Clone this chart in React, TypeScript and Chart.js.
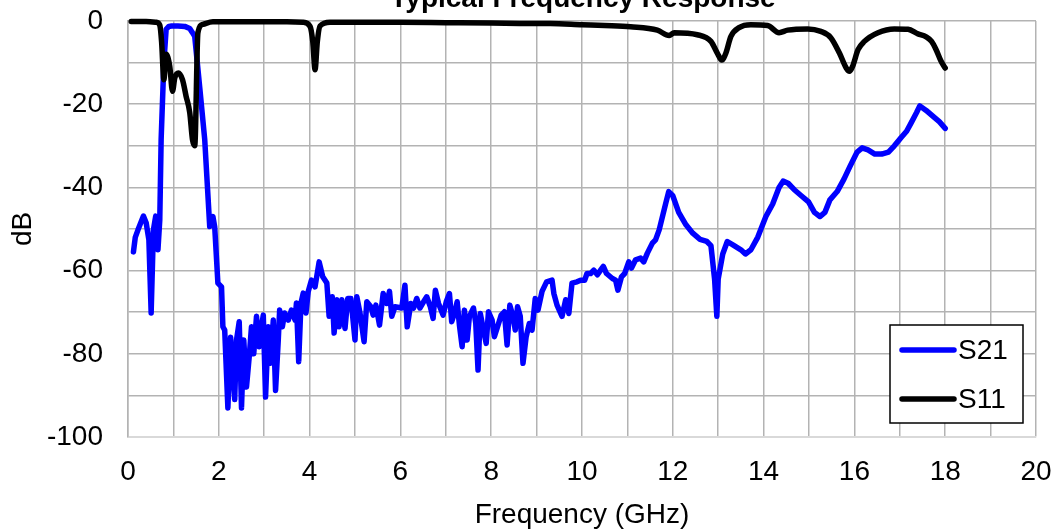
import React, { useEffect, useRef } from 'react';
import { Chart, registerables } from 'chart.js';

Chart.register(...registerables);

const FONT = "'Liberation Sans', Arial, sans-serif";
const TITLE = 'Typical Frequency Response';
const X_TITLE = 'Frequency (GHz)';
const Y_TITLE = 'dB';

const xTickValues = [0, 2, 4, 6, 8, 10, 12, 14, 16, 18, 20];
const yTickValues = [0, -20, -40, -60, -80, -100];

const s21Freq = [
  0.12, 0.16, 0.22, 0.34, 0.40, 0.46, 0.51, 0.56, 0.61, 0.66,
  0.70, 0.73, 0.79, 0.84, 0.90, 0.96, 1.10, 1.25, 1.36, 1.42,
  1.47, 1.58, 1.69, 1.80, 1.87, 1.91, 1.98, 2.06, 2.09, 2.13,
  2.20, 2.26, 2.31, 2.35, 2.39, 2.45, 2.50, 2.55, 2.61, 2.67,
  2.72, 2.77, 2.83, 2.89, 2.94, 2.98, 3.03, 3.09, 3.14, 3.20,
  3.25, 3.31, 3.34, 3.40, 3.45, 3.53, 3.60, 3.68, 3.71, 3.76,
  3.81, 3.86, 3.92, 3.97, 4.04, 4.12, 4.21, 4.29, 4.38, 4.43,
  4.50, 4.54, 4.60, 4.65, 4.71, 4.78, 4.84, 4.91, 5.00, 5.04,
  5.11, 5.20, 5.26, 5.35, 5.40, 5.46, 5.54, 5.62, 5.70, 5.76,
  5.81, 5.88, 6.03, 6.10, 6.15, 6.23, 6.29, 6.36, 6.43, 6.51,
  6.58, 6.66, 6.72, 6.77, 6.84, 6.94, 7.01, 7.08, 7.13, 7.19,
  7.25, 7.30, 7.36, 7.41, 7.47, 7.52, 7.61, 7.66, 7.71, 7.76,
  7.83, 7.89, 7.94, 8.02, 8.07, 8.14, 8.22, 8.29, 8.35, 8.41,
  8.48, 8.53, 8.58, 8.64, 8.70, 8.77, 8.84, 8.90, 8.97, 9.03,
  9.12, 9.22, 9.34, 9.38, 9.45, 9.56, 9.64, 9.71, 9.78, 9.89,
  9.97, 10.06, 10.11, 10.19, 10.26, 10.34, 10.41, 10.47, 10.54, 10.67,
  10.74, 10.79, 10.87, 10.94, 11.03, 11.09, 11.18, 11.29, 11.36, 11.44,
  11.55, 11.62, 11.70, 11.84, 11.91, 12.00, 12.13, 12.29, 12.44, 12.60,
  12.75, 12.84, 12.92, 12.97, 13.00, 13.10, 13.20, 13.35, 13.50, 13.60,
  13.72, 13.87, 14.05, 14.20, 14.34, 14.43, 14.54, 14.67, 14.83, 14.99,
  15.12, 15.24, 15.35, 15.46, 15.62, 15.77, 15.90, 16.06, 16.17, 16.30,
  16.45, 16.60, 16.75, 16.88, 17.03, 17.15, 17.25, 17.37, 17.44, 17.58,
  17.74, 17.87, 18.00,
];

const s21Db = [
  -55.5, -52, -50.2, -46.9, -48.5, -52.6, -70.2, -50.2, -46.9, -55,
  -47.8, -28.5, -10, -2, -1.3, -1.2, -1.2, -1.3, -1.8, -2.8,
  -3.7, -16, -28.5, -49.4, -47, -49.5, -63, -63.9, -73.5, -74.3,
  -93, -76, -84, -91, -76.7, -72.3, -93, -76.7, -88, -80.7,
  -73.5, -80, -71, -78.3, -73.5, -70.7, -90.4, -73.5, -82.3, -71.9,
  -88.8, -76.7, -69.5, -73.5, -70.2, -71.9, -69.5, -71.9, -67.8, -81.9,
  -67.8, -65.4, -70.2, -65, -62.3, -63.9, -57.9, -61.5, -63, -71,
  -66.3, -75, -67, -73.5, -67, -73.9, -66.7, -66.7, -76.7, -66.3,
  -70.2, -77.1, -67.5, -68.7, -70.7, -68.3, -73.1, -65.5, -67.9, -65,
  -71, -68.7, -69, -63.5, -73.5, -67.9, -69, -66.7, -69, -67.5,
  -66.3, -68.7, -71.5, -64.7, -67.9, -70.7, -67.5, -65.5, -72.3, -70.3,
  -67.5, -73.1, -78.3, -69.5, -76.7, -71, -69, -72.7, -83.9, -70.3,
  -74.3, -77.5, -69.9, -71.9, -75.9, -73.5, -70.7, -69.9, -77.9, -68.3,
  -71, -74.3, -68.7, -71, -82.3, -75.9, -72.7, -74.3, -66.7, -69.5,
  -65, -62.7, -62.3, -65.5, -68.3, -71, -67, -70.3, -63, -62.7,
  -62.3, -62.3, -60.7, -60.7, -59.9, -61, -59.9, -59, -60.7, -61.9,
  -62.3, -64.7, -61.5, -60.7, -57.9, -59.4, -57.4, -57, -57.9, -55.8,
  -53.4, -52.6, -50.2, -44, -41, -42, -46, -49, -51, -52.5,
  -53, -54, -62, -71, -62, -56, -53, -54, -55, -56,
  -55, -52, -47, -44, -40, -38.5, -39, -40.5, -42, -43.5,
  -46, -47, -46, -43, -41, -38, -35, -31.5, -30.5, -31,
  -32, -32, -31.5, -30, -28, -26.5, -24.5, -22, -20.4, -21.5,
  -23, -24.2, -25.8,
];

const s11Freq = [
  0.07, 0.40, 0.62, 0.70, 0.74, 0.79, 0.84, 0.92, 0.98, 1.03,
  1.11, 1.20, 1.28, 1.36, 1.42, 1.47, 1.54, 1.65, 1.87, 2.50,
  3.00, 3.50, 3.86, 4.01, 4.07, 4.12, 4.17, 4.23, 4.45, 5.00,
  6.00, 7.00, 8.00, 8.86, 9.30, 10.00, 10.50, 11.07, 11.66, 11.92,
  12.03, 12.54, 12.84, 12.98, 13.08, 13.17, 13.28, 13.46, 13.72, 14.09,
  14.34, 14.53, 14.97, 15.26, 15.48, 15.67, 15.82, 15.89, 15.96, 16.08,
  16.22, 16.52, 16.88, 17.18, 17.40, 17.58, 17.70, 17.80, 17.91, 18.00,
];

const s11Db = [
  -0.1, -0.1, -0.3, -1.0, -5, -14.1, -8, -10.9, -16.9, -13.7,
  -12.5, -14.1, -18.1, -22, -28.5, -30, -2.8, -0.8, -0.2, -0.2,
  -0.2, -0.2, -0.3, -1.3, -5, -11.7, -5, -1.2, -0.3, -0.3,
  -0.3, -0.4, -0.5, -0.6, -0.6, -0.9, -1.1, -1.4, -2.2, -3.5,
  -2.8, -3.3, -4.9, -7.7, -9.4, -7.7, -3.7, -1.6, -0.9, -1.1,
  -2.8, -2.2, -1.9, -2.5, -4, -7.7, -11.3, -12.1, -10.9, -6.9,
  -4.9, -2.8, -1.9, -2, -3.1, -3.8, -4.9, -6.9, -9.7, -11.3,
];

const overlayPlugin = {
  id: 'overlay',
  afterDraw(chart: any) {
    const ctx = chart.ctx as CanvasRenderingContext2D;
    ctx.save();
    // title (partially cut off at top, as in the reference)
    ctx.font = `bold 28px ${FONT}`;
    ctx.fillStyle = '#000';
    ctx.textAlign = 'center';
    ctx.textBaseline = 'alphabetic';
    ctx.fillText(TITLE, 583, 7);

    // legend box
    const bx = 890, by = 325, bw = 133, bh = 98;
    ctx.fillStyle = '#fff';
    ctx.fillRect(bx, by, bw, bh);
    ctx.strokeStyle = '#000';
    ctx.lineWidth = 1.5;
    ctx.strokeRect(bx, by, bw, bh);
    const rows = [350, 399];
    chart.data.datasets.forEach((ds: any, i: number) => {
      const y = rows[i];
      ctx.strokeStyle = ds.borderColor;
      ctx.lineWidth = 5.5;
      ctx.lineCap = 'round';
      ctx.beginPath();
      ctx.moveTo(902, y);
      ctx.lineTo(954, y);
      ctx.stroke();
      ctx.fillStyle = '#000';
      ctx.font = `28px ${FONT}`;
      ctx.textAlign = 'left';
      ctx.textBaseline = 'middle';
      ctx.fillText(ds.label, 958, y + 1);
    });
    ctx.restore();
  },
};

const zeroPad = (scale: any) => {
  scale.paddingTop = 0;
  scale.paddingBottom = 0;
  scale.paddingLeft = 0;
  scale.paddingRight = 0;
};

export default function App() {
  const ref = useRef<HTMLCanvasElement | null>(null);

  useEffect(() => {
    if (!ref.current) return;
    const s21 = s21Freq.map((f, i) => ({ x: f, y: s21Db[i] }));
    const s11 = s11Freq.map((f, i) => ({ x: f, y: s11Db[i] }));
    const chart = new Chart(ref.current, {
      type: 'line',
      data: {
        datasets: [
          {
            label: 'S21',
            data: s21,
            borderColor: '#0000ff',
            backgroundColor: '#0000ff',
            borderWidth: 5.5,
            pointRadius: 0,
            tension: 0,
            borderJoinStyle: 'round',
            borderCapStyle: 'round',
            order: 1,
            clip: 5,
          },
          {
            label: 'S11',
            data: s11,
            borderColor: '#000000',
            backgroundColor: '#000000',
            borderWidth: 5.5,
            pointRadius: 0,
            cubicInterpolationMode: 'monotone',
            borderJoinStyle: 'round',
            borderCapStyle: 'round',
            order: 0,
            clip: 5,
          },
        ],
      },
      options: {
        animation: false,
        responsive: false,
        maintainAspectRatio: false,
        layout: { padding: { top: 21, right: 23, left: 0, bottom: 0 } },
        plugins: {
          legend: { display: false },
          title: { display: false },
          tooltip: { enabled: false },
        },
        font: { family: FONT, size: 28 },
        scales: {
          x: {
            type: 'linear',
            min: 0,
            max: 20,
            afterFit: (scale: any) => {
              scale.height = 92;
              zeroPad(scale);
            },
            afterBuildTicks: (scale: any) => {
              const t: any[] = [];
              for (let v = 0; v <= 20; v += 1) t.push({ value: v });
              scale.ticks = t;
            },
            ticks: {
              autoSkip: false,
              maxRotation: 0,
              padding: 18,
              color: '#000',
              font: { family: FONT, size: 28 },
              callback: (v: any) => (xTickValues.includes(Number(v)) ? String(v) : ''),
            },
            grid: { color: '#b3b3b3', lineWidth: 1.5, drawTicks: false },
            border: { color: '#d9d9d9', width: 1.5 },
            title: {
              display: true,
              text: X_TITLE,
              color: '#000',
              font: { family: FONT, size: 28, lineHeight: 1 },
              padding: { top: 0, bottom: 0 },
            },
          },
          y: {
            type: 'linear',
            min: -100,
            max: 0,
            afterFit: (scale: any) => {
              scale.width = 128;
              zeroPad(scale);
            },
            afterBuildTicks: (scale: any) => {
              const t: any[] = [];
              for (let v = -100; v <= 0; v += 10) t.push({ value: v });
              scale.ticks = t;
            },
            ticks: {
              autoSkip: false,
              padding: 25,
              color: '#000',
              font: { family: FONT, size: 28 },
              callback: (v: any) => (yTickValues.includes(Number(v)) ? String(v) : ''),
            },
            grid: { color: '#b3b3b3', lineWidth: 1.5, drawTicks: false },
            border: { color: '#b3b3b3', width: 1.5 },
            title: {
              display: true,
              text: Y_TITLE,
              color: '#000',
              font: { family: FONT, size: 28, lineHeight: 1 },
              padding: { top: 9, bottom: 0 },
            },
          },
        },
      },
      plugins: [overlayPlugin],
    } as any);
    return () => chart.destroy();
  }, []);

  return (
    <div style={{ position: 'fixed', left: 0, top: 0, width: 1059, height: 529, background: '#fff' }}>
      <canvas ref={ref} width={1059} height={529} style={{ display: 'block', width: 1059, height: 529 }} />
    </div>
  );
}
